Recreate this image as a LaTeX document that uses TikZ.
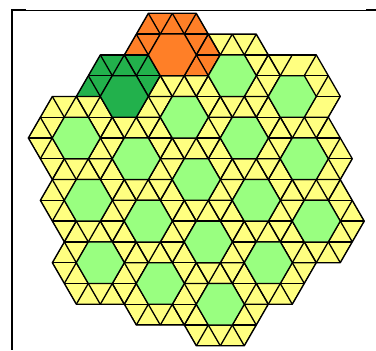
\documentclass[tikz,border=0pt]{standalone}
\usepackage{tikz}
\definecolor{tileyellow}{RGB}{255,255,128}
\definecolor{hexgreen}{RGB}{153,255,128}
\definecolor{tilegreen}{RGB}{34,177,76}
\definecolor{tileorange}{RGB}{255,127,39}
\newcommand{\hexcentres}{4/4,7/3,10/2,3/2,6/1,9/0,12/-1,2/0,5/-1,8/-2,11/-3,14/-4,4/-3,7/-4,10/-5,13/-6,6/-6,9/-7,12/-8}

\begin{document}
\begin{tikzpicture}[edge/.style={black, line width=1.1pt, line join=round}]
\useasboundingbox (0,0) rectangle (11.28,-10.5);
% frame
\draw[line width=0.06cm] (0.36,-0.285) -- (0.36,-10.5);
\draw[line width=0.03cm] (0.36,-0.3) -- (11.28,-0.3);
\draw[line width=0.06cm] (0.33,-0.31) -- (0.78,-0.31);
\draw[line width=0.06cm] (10.98,-0.31) -- (11.28,-0.31);
\begin{scope}[shift={(0.849,-4.14)}, x={(0.72cm,0cm)}, y={(0.36cm,0.6235cm)}]
% yellow ground
\foreach \a/\b in \hexcentres
  \fill[tileyellow] (\a+2,\b) -- (\a,\b+2) -- (\a-2,\b+2) -- (\a-2,\b) -- (\a,\b-2) -- (\a+2,\b-2) -- cycle;
% the two marked tiles
\fill[tileorange] (2,6) -- (4,6) -- (6,4) -- (6,3) -- (4,3) -- (3,4) -- (2,4) -- cycle;
\fill[tilegreen] (1,4) -- (3,4) -- (4,3) -- (4,1) -- (3,1) -- (2,2) -- (1,2) -- cycle;
% triangle grid
\begin{scope}
\clip \foreach \a/\b in \hexcentres {(\a+2,\b) -- (\a,\b+2) -- (\a-2,\b+2) -- (\a-2,\b) -- (\a,\b-2) -- (\a+2,\b-2) -- cycle};
\foreach \k in {-10,...,6} \draw[edge] (-20,\k) -- (30,\k);
\foreach \k in {0,...,16} \draw[edge] (\k,-12) -- (\k,8);
\foreach \k in {-2,...,12} \draw[edge] (\k+12,-12) -- (\k-8,8);
\end{scope}
\foreach \a/\b in \hexcentres
  \draw[edge] (\a+2,\b) -- (\a,\b+2) -- (\a-2,\b+2) -- (\a-2,\b) -- (\a,\b-2) -- (\a+2,\b-2) -- cycle;
% hexagons
\foreach \a/\b/\c in {4/4/tileorange,7/3/hexgreen,10/2/hexgreen,3/2/tilegreen,6/1/hexgreen,9/0/hexgreen,12/-1/hexgreen,2/0/hexgreen,5/-1/hexgreen,8/-2/hexgreen,11/-3/hexgreen,14/-4/hexgreen,4/-3/hexgreen,7/-4/hexgreen,10/-5/hexgreen,13/-6/hexgreen,6/-6/hexgreen,9/-7/hexgreen,12/-8/hexgreen}
  \filldraw[edge, fill=\c] (\a+1,\b) -- (\a,\b+1) -- (\a-1,\b+1) -- (\a-1,\b) -- (\a,\b-1) -- (\a+1,\b-1) -- cycle;
\end{scope}
\end{tikzpicture}
\end{document}
